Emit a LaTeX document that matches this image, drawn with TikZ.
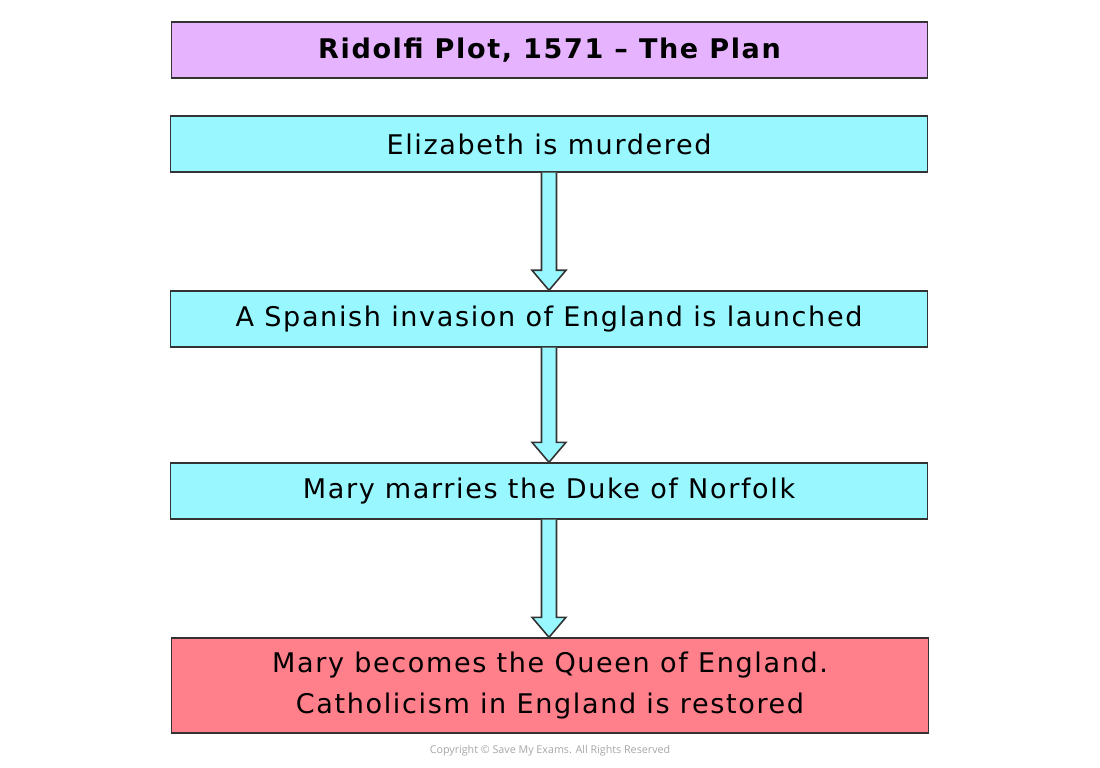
\documentclass[tikz,border=0pt]{standalone}
\usepackage{fontspec}
\setmainfont{DejaVu Sans}[LetterSpace=6]
\newfontfamily\copyfont{Open Sans}
\usepackage{tikz}
\usetikzlibrary{calc}
\definecolor{planpurple}{HTML}{E6B3FF}
\definecolor{plancyan}{HTML}{99F8FF}
\definecolor{planred}{HTML}{FF808A}
\definecolor{planline}{HTML}{333333}
\tikzset{
  planbox/.style={draw=planline, line width=0.8pt, minimum width=15.13cm, minimum height=1.12cm,
    align=center, font=\fontsize{15.4}{18}\selectfont, inner sep=0pt},
  blockarrow/.style={draw=planline, line width=0.9pt, fill=plancyan, line join=miter}
}
\newcommand{\planarrow}[2]{%
  \coordinate (tip) at (#1.south |- #2.north);
  \draw[blockarrow] ($(#1.south)+(-0.15,0)$) -- ($(tip)+(-0.15,0.4)$)
    -- ($(tip)+(-0.34,0.4)$) -- (tip) -- ($(tip)+(0.34,0.4)$)
    -- ($(tip)+(0.15,0.4)$) -- ($(#1.south)+(0.15,0)$);}
\begin{document}
\begin{tikzpicture}
\useasboundingbox (0,0) rectangle (22,15.36);
\node[planbox, fill=planpurple, font=\fontsize{15.4}{18}\selectfont\bfseries] (title) at (10.99,14.36) {Ridolfi Plot, 1571 -- The Plan};
\node[planbox, fill=plancyan] (murder) at (10.98,12.48) {Elizabeth is murdered};
\node[planbox, fill=plancyan] (invasion) at (10.98,8.98) {A Spanish invasion of England is launched};
\node[planbox, fill=plancyan] (marriage) at (10.98,5.54) {Mary marries the Duke of Norfolk};
\node[planbox, fill=planred, minimum height=1.9cm, font=\fontsize{15.4}{23.8}\selectfont] (queen) at (11.0,1.65)
  {Mary becomes the Queen of England.\\Catholicism in England is restored};
\planarrow{murder}{invasion}
\planarrow{invasion}{marriage}
\planarrow{marriage}{queen}
\node[text=black!35, font=\copyfont\fontsize{6.1}{8}\selectfont] (copy) at (11.0,0.34) {Copyright \textcopyright{} Save My Exams. All Rights Reserved};
\end{tikzpicture}
\end{document}
